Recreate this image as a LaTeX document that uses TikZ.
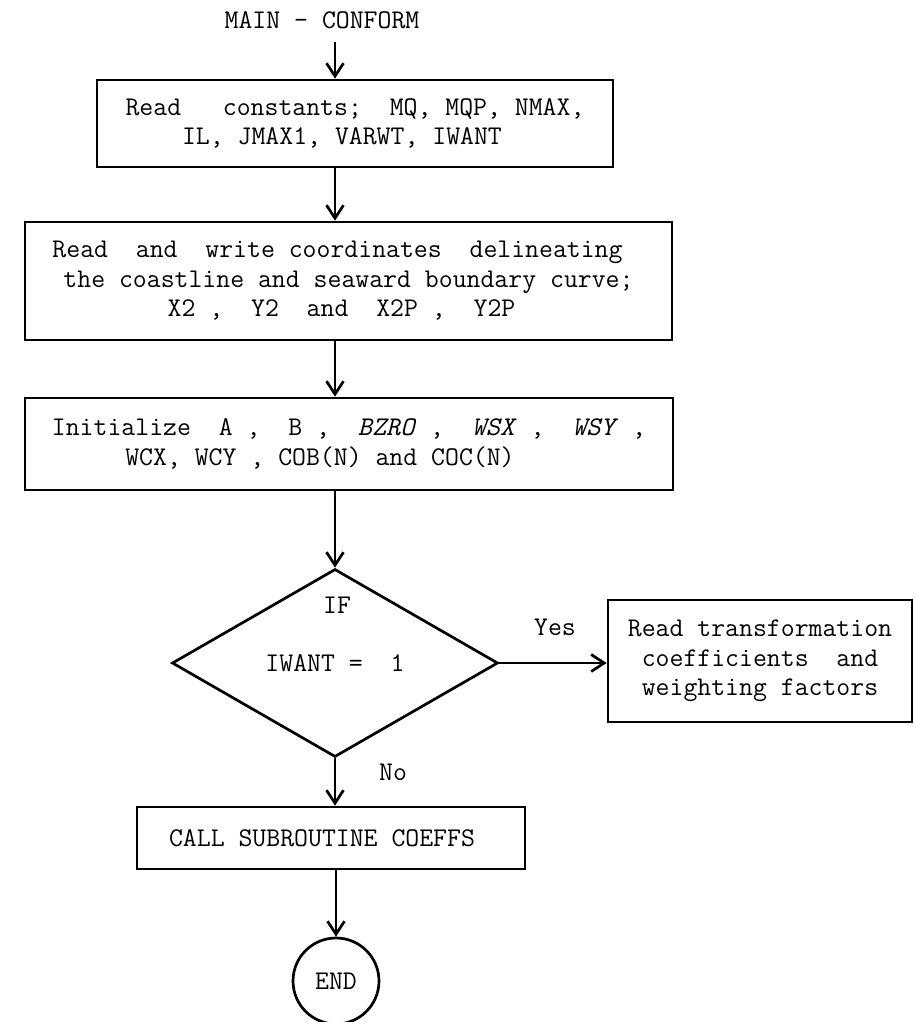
\documentclass[tikz,border=0pt]{standalone}
\usetikzlibrary{shapes.geometric,arrows.meta}
\begin{document}
\begin{tikzpicture}[x=1pt,y=-1pt,
  every node/.style={font=\fontsize{27}{29.5}\selectfont\ttfamily, inner sep=0pt},
  box/.style={draw, rectangle, line width=2.7pt, align=center},
  decision/.style={draw, diamond, line width=2.7pt, minimum width=326pt, minimum height=188pt},
  terminal/.style={draw, circle, line width=2.7pt, minimum size=86pt},
  flow/.style={line width=2.7pt, -{Straight Barb[length=13pt,width=17pt,line width=2.7pt]}}]
\useasboundingbox (0,0) rectangle (915,1022);
\node (title) at (322,20) {MAIN - CONFORM};
\coordinate (a0) at (335,42);
\node[box, minimum width=516pt, minimum height=87pt] (b1) at (355,123.5)
  {Read\ \ \ constants;\ \ MQ,\ MQP,\ NMAX,\\IL,\ JMAX1,\ VARWT,\ IWANT\hspace*{26pt}};
\node[box, minimum width=647pt, minimum height=118pt] (b2) at (348.5,281)
  {Read\ \ and\ \ write coordinates\ \ delineating\hspace*{22pt}\\the coastline and seaward boundary curve;\hspace*{48pt}\\X2 ,\ \ Y2\ \ and\ \ X2P ,\ \ Y2P\hspace*{14pt}};
\node[box, minimum width=648pt, minimum height=92pt] (b3) at (349,444)
  {Initialize\ \ A ,\ \ B ,\ \ \textit{BZRO} ,\ \ \textit{WSX} ,\ \ \textit{WSY} ,\\WCX, WCY , COB(N) and COC(N)\hspace*{58pt}};
\node[decision] (dec) at (335,663) {IWANT =\ \ 1};
\node (if) at (337,605) {IF};
\node[box, minimum width=304pt, minimum height=122pt] (b4) at (760,661)
  {Read transformation\\coefficients\ \ and\\weighting factors};
\node (yes) at (555,627) {Yes};
\node (no) at (393,772) {No};
\node[box, minimum width=388pt, minimum height=62pt] (b5) at (331,838) {CALL SUBROUTINE COEFFS\hspace*{18pt}};
\node[terminal] (end) at (336,981) {END};
\draw[flow] (a0) -- (a0 |- b1.north);
\draw[flow] (b1.south -| a0) -- (b2.north -| a0);
\draw[flow] (b2.south -| a0) -- (b3.north -| a0);
\draw[flow] (b3.south -| a0) -- (dec.north);
\draw[flow] (dec.east) -- (b4.west |- dec.east);
\draw[flow] (dec.south) -- (dec.south |- b5.north);
\draw[flow] (b5.south -| end) -- (end.north);
\end{tikzpicture}
\end{document}
